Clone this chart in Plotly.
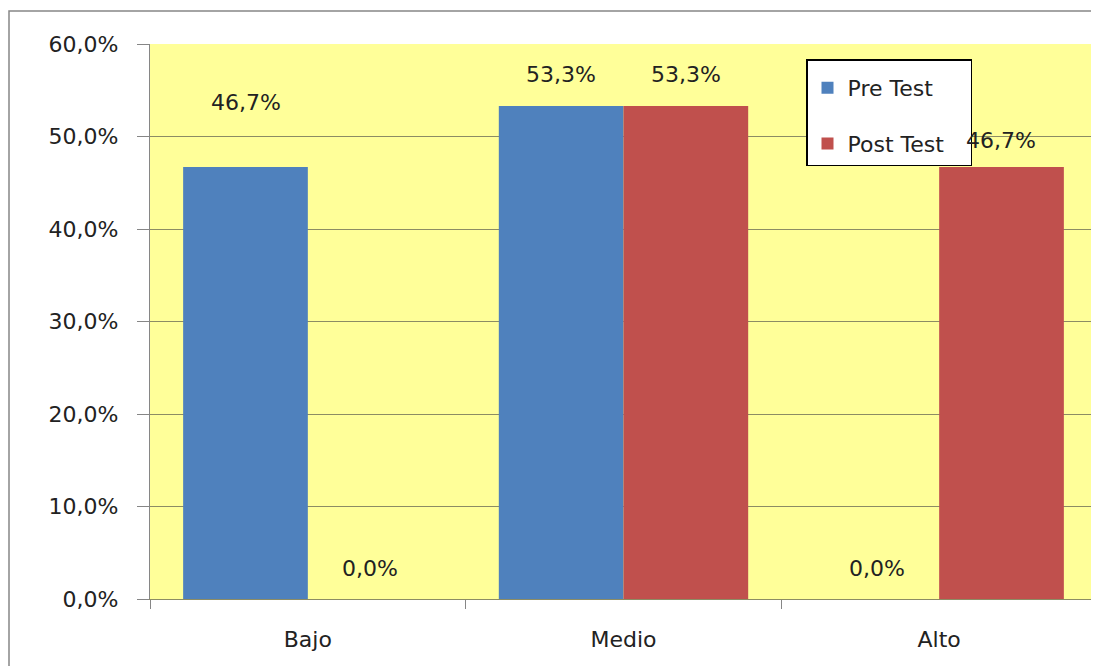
import plotly.graph_objects as go

categories = ["Bajo", "Medio", "Alto"]
pre_test = [46.7, 53.3, 0.0]
post_test = [0.0, 53.3, 46.7]
series_names = ["Pre Test", "Post Test"]
y_ticks = [0, 10, 20, 30, 40, 50, 60]

# styling: label lift above each bar top (px)
pre_label_lift = [65, 31, 31]
post_label_lift = [31, 31, 27]

BLUE = "#4F81BD"
RED = "#C0504D"
YELLOW = "#FFFF99"
GRID = "#8c8c64"
AXIS = "#868686"
TXT = "#222222"
FONT = "DejaVu Sans"
FS = 22


def fmt(v):
    return f"{v:.1f}".replace(".", ",") + "%"


fig = go.Figure()
fig.add_trace(go.Bar(x=categories, y=pre_test, name=series_names[0],
                     marker=dict(color=BLUE, line=dict(width=0)),
                     legendgroup="a", hoverinfo="skip"))
fig.add_trace(go.Bar(x=categories, y=post_test, name=series_names[1],
                     marker=dict(color=RED, line=dict(width=0)),
                     legendgroup="b", hoverinfo="skip"))

half = 0.5 * (1 - 0.21) / 2  # bar center offset in category units
cat_px = 315
annotations = []
for i, c in enumerate(categories):
    for vals, lifts, sign in ((pre_test, pre_label_lift, -1), (post_test, post_label_lift, 1)):
        annotations.append(dict(
            x=c, y=vals[i], xref="x", yref="y", text=fmt(vals[i]),
            showarrow=False, xanchor="center", yanchor="middle",
            xshift=sign * half * cat_px, yshift=lifts[i],
            font=dict(family=FONT, size=FS, color=TXT)))

L, T, PW, PH = 142, 36, 947, 555
fig.update_layout(
    width=1099, height=666,
    margin=dict(l=L, r=1099 - L - PW, t=T, b=666 - T - PH),
    paper_bgcolor="white",
    plot_bgcolor=YELLOW,
    barmode="group", bargap=0.21, bargroupgap=0,
    separators=",.",
    font=dict(family=FONT, size=FS, color=TXT),
    showlegend=True,
    legend=dict(x=(806 - 150) / PW, y=(599 - 59) / PH, xanchor="left", yanchor="top",
                bgcolor="white", bordercolor="black", borderwidth=1.5,
                traceorder="grouped", tracegroupgap=24,
                title=dict(text="\u00a0" * 100, font=dict(family=FONT, size=5)),
                font=dict(family=FONT, size=FS, color=TXT)),
    annotations=annotations,
    shapes=[dict(type="rect", xref="paper", yref="paper",
                 x0=(9 - 150) / PW, x1=1.05, y0=-0.3, y1=(599 - 11) / PH,
                 line=dict(color=AXIS, width=1.5), fillcolor="rgba(0,0,0,0)",
                 layer="below")],
)
fig.update_yaxes(range=[0, 60], tickvals=y_ticks, ticktext=[fmt(v) for v in y_ticks],
                 showgrid=True, gridcolor=GRID, gridwidth=1.2,
                 showline=True, linecolor=AXIS, linewidth=1.2,
                 ticks="outside", ticklen=12, tickcolor=AXIS,
                 ticklabelstandoff=14, zeroline=False,
                 tickfont=dict(family=FONT, size=FS, color=TXT))
fig.update_xaxes(type="category", showline=True, linecolor=GRID, linewidth=1.2,
                 ticks="outside", tickson="boundaries", ticklen=9, tickcolor=AXIS,
                 ticklabelstandoff=20, showgrid=False,
                 tickfont=dict(family=FONT, size=FS, color=TXT))

fig.write_html("out.html")
